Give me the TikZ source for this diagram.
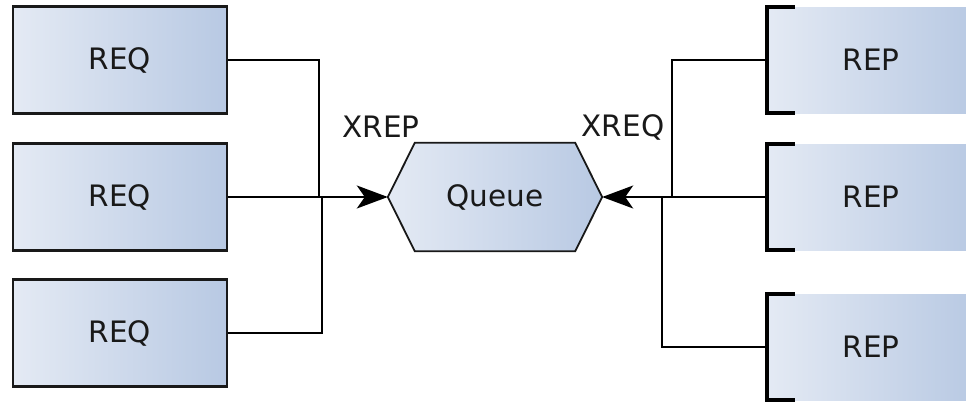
\documentclass[tikz,border=0pt]{standalone}
\usepackage{fontspec}
\setmainfont{DejaVu Sans}
\usetikzlibrary{arrows.meta,backgrounds}

\definecolor{fillL}{RGB}{228,234,244}
\definecolor{fillR}{RGB}{184,201,227}
\definecolor{ink}{RGB}{25,25,25}

\tikzset{
  lbl/.style={font=\fontsize{29.5}{34}\selectfont, text=ink},
  reqbox/.style={lbl, draw=ink, line width=2.6pt, left color=fillL, right color=fillR,
    minimum width=214pt, minimum height=107pt, inner sep=0pt},
  repbox/.style={lbl, left color=fillL, right color=fillR,
    minimum width=208pt, minimum height=106pt, inner sep=0pt},
  bracket/.style={draw=black, line width=4pt, line join=miter},
  hexshape/.style={draw=ink, line width=1.8pt, left color=fillL, right color=fillR},
  wire/.style={draw=black, line width=1.8pt},
  tip/.style={-{Stealth[length=31pt,width=23pt,inset=8pt]}},
}

\begin{document}
\begin{tikzpicture}[x=1pt, y=-1pt]
  \useasboundingbox (0,0) rectangle (966,402);

  % requesters on the left
  \node[reqbox] (req1) at (120,60)  {REQ};
  \node[reqbox] (req2) at (120,197) {REQ};
  \node[reqbox] (req3) at (120,333) {REQ};

  % the queue device in the middle
  \node[lbl, minimum width=214pt, minimum height=108pt, inner sep=0pt] (queue) at (495,197) {Queue};
  \begin{scope}[on background layer]
    \path[hexshape] (queue.west) -- ([xshift=27pt]queue.north west)
      -- ([xshift=-27pt]queue.north east) -- (queue.east)
      -- ([xshift=-27pt]queue.south east) -- ([xshift=27pt]queue.south west) -- cycle;
  \end{scope}
  \node[lbl] (xrep) at (381,127) {XREP};
  \node[lbl] (xreq) at (623,127) {XREQ};

  % repliers on the right, open to the right edge
  \node[repbox] (rep1) at (871,60)  {REP};
  \node[repbox] (rep2) at (871,197) {REP};
  \node[repbox] (rep3) at (871,347) {REP};
  \foreach \r in {rep1,rep2,rep3}{
    \draw[bracket] ([xshift=28pt]\r.north west) -| (\r.south west) -- ++(28pt,0);
  }

  % junction points of the wiring
  \coordinate (jl1) at (319,197);
  \coordinate (jl3) at (322,197);
  \coordinate (jr1) at (672,197);
  \coordinate (jr3) at (662,197);

  % left side wiring
  \draw[wire] (req1.east) -| (jl1);
  \draw[wire] (req3.east) -| (jl3);
  \draw[wire, tip] (req2.east) -- (queue.west);

  % right side wiring
  \draw[wire] (rep1.west) -| (jr1);
  \draw[wire] (rep3.west) -| (jr3);
  \draw[wire, tip] (rep2.west) -- (queue.east);
\end{tikzpicture}
\end{document}
